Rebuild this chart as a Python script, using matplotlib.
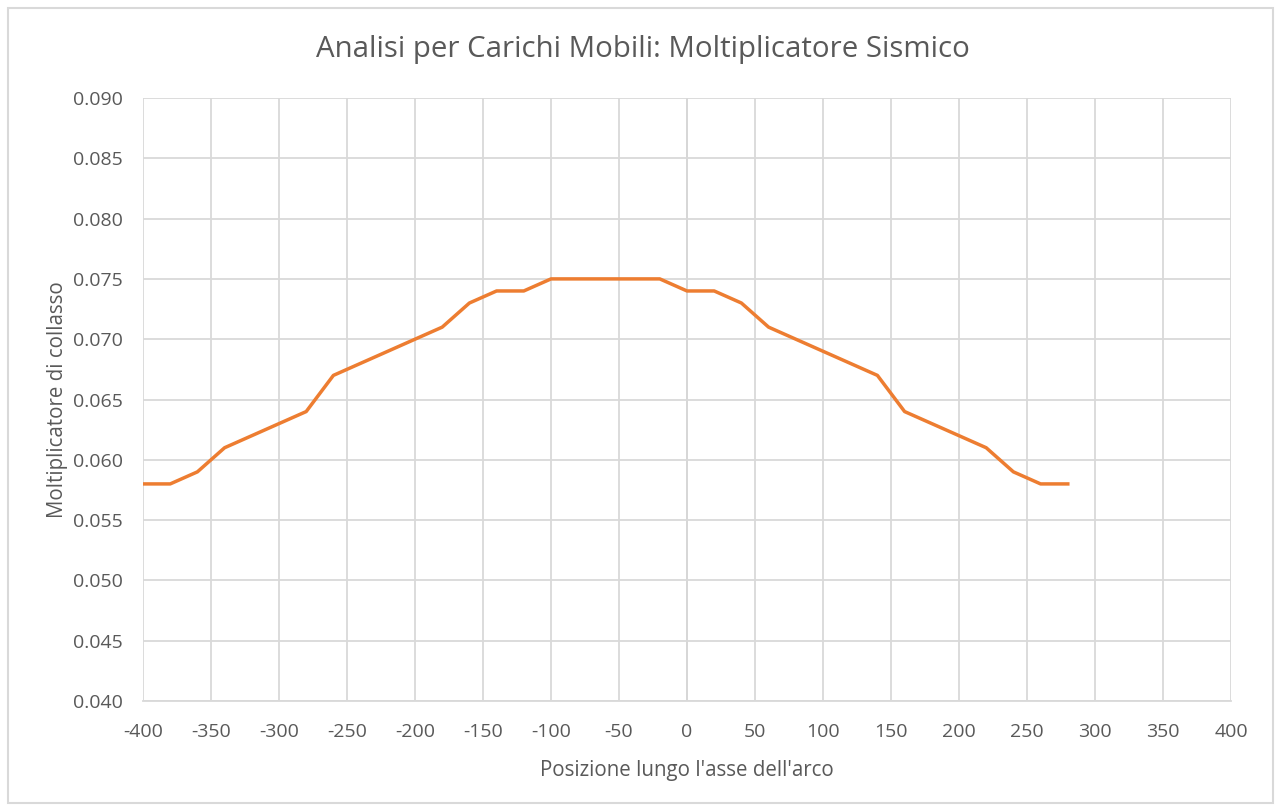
import matplotlib
matplotlib.use('Agg')
import matplotlib.pyplot as plt
from matplotlib.patches import Rectangle
import numpy as np

plt.rcParams['font.family'] = ['Open Sans', 'DejaVu Sans']
plt.rcParams['axes.unicode_minus'] = False

posizione = list(range(-400, 281, 20))
moltiplicatore = [0.058, 0.058, 0.059, 0.061, 0.062, 0.063, 0.064, 0.067, 0.068,
                  0.069, 0.070, 0.071, 0.073, 0.074, 0.074, 0.075, 0.075, 0.075,
                  0.075, 0.075, 0.074, 0.074, 0.073, 0.071, 0.070, 0.069, 0.068,
                  0.067, 0.064, 0.063, 0.062, 0.061, 0.059, 0.058, 0.058]

grey = '#595959'
grid_col = '#d9d9d9'

fig = plt.figure(figsize=(12.75, 8.05), dpi=100)
ax = fig.add_axes([143 / 1275, 1 - 701 / 805, (1231 - 143) / 1275, (701 - 98) / 805])

# cornice del grafico
fig.patches.append(Rectangle((8 / 1275, 0.002), (1273 - 8) / 1275, 1 - 8 / 805 - 0.002,
                             transform=fig.transFigure, fill=False,
                             edgecolor='#d9d9d9', linewidth=1.5))

ax.plot(posizione, moltiplicatore, color='#ED7D31', linewidth=2.5, zorder=3)

ax.set_xlim(-400, 400)
ax.set_ylim(0.040, 0.090)
ax.set_xticks(np.arange(-400, 401, 50))
ax.set_yticks(np.arange(0.040, 0.0901, 0.005))
ax.set_yticklabels(['%.3f' % v for v in np.arange(0.040, 0.0901, 0.005)])
ax.grid(True, color=grid_col, linewidth=1.3, zorder=0)
ax.axvline(0, color='#bfbfbf', linewidth=1.3, zorder=1)
ax.tick_params(axis='x', length=0, labelsize=14, colors=grey, pad=15.5)
ax.tick_params(axis='y', length=0, labelsize=14, colors=grey, pad=14.5)
for s in ['top', 'right', 'left']:
    ax.spines[s].set_visible(False)
ax.spines['bottom'].set_color(grid_col)
ax.spines['bottom'].set_linewidth(1.3)

ax.set_xlabel("Posizione lungo l'asse dell'arco", fontsize=14.8, color=grey, labelpad=14)
ax.set_ylabel('Moltiplicatore di collasso', fontsize=14.8, color=grey, labelpad=3.5)
fig.text(0.5 + 0.004, 1 - 50 / 805, 'Analisi per Carichi Mobili: Moltiplicatore Sismico',
         ha='center', va='center', fontsize=21.2, color=grey)

fig.savefig('out.png', dpi=100)
